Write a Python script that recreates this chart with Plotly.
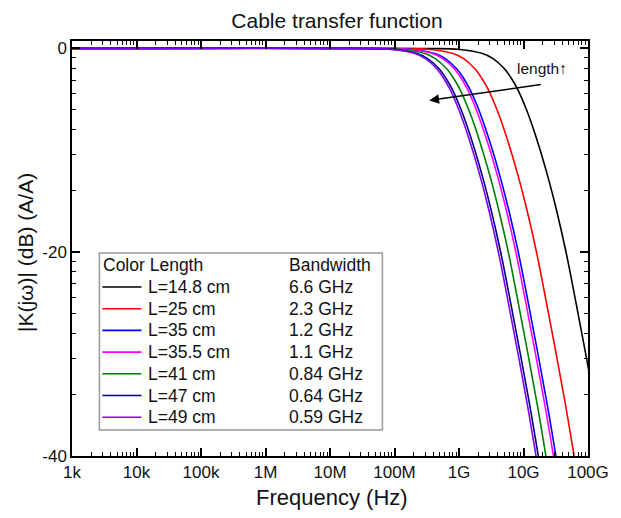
import numpy as np
import plotly.graph_objects as go

# ---------------- data ----------------
# attenuation levels (dB) shared by all curves; each curve lists the frequency (GHz)
# at which it reaches that level
db_levels = [0, -0.01, -0.1, -0.5, -1, -2, -3, -4, -6, -8, -10, -13, -16, -20, -25, -30, -35, -40]

freq_L148 = [1e-6, 0.33, 1.01, 2.32, 3.37, 5.06, 6.58, 8.09, 11.09, 14.42, 18.18, 24.88, 32.87, 45.69, 65.33, 92.27, 128.8, 174.9]
freq_L25 = [1e-6, 0.115, 0.353, 0.808, 1.18, 1.76, 2.29, 2.82, 3.87, 5.03, 6.34, 8.67, 11.46, 15.92, 22.77, 32.15, 44.88, 60.95]
freq_L35 = [1e-6, 0.06, 0.184, 0.422, 0.613, 0.920, 1.20, 1.47, 2.02, 2.62, 3.31, 4.52, 5.98, 8.31, 11.88, 16.78, 23.42, 31.80]
freq_L355 = [1e-6, 0.055, 0.169, 0.387, 0.562, 0.843, 1.10, 1.35, 1.85, 2.40, 3.03, 4.15, 5.48, 7.62, 10.89, 15.38, 21.47, 29.15]
freq_L41 = [1e-6, 0.042, 0.129, 0.295, 0.429, 0.644, 0.838, 1.03, 1.41, 1.84, 2.31, 3.17, 4.18, 5.82, 8.31, 11.74, 16.39, 22.26]
freq_L47 = [1e-6, 0.032, 0.0983, 0.225, 0.327, 0.491, 0.638, 0.784, 1.075, 1.399, 1.763, 2.413, 3.187, 4.431, 6.335, 8.947, 12.49, 16.96]
freq_L49 = [1e-6, 0.0295, 0.0906, 0.207, 0.302, 0.452, 0.588, 0.723, 0.991, 1.289, 1.625, 2.224, 2.938, 4.084, 5.840, 8.248, 11.51, 15.64]

length_labels = ["L=14.8 cm", "L=25 cm", "L=35 cm", "L=35.5 cm", "L=41 cm", "L=47 cm", "L=49 cm"]
bandwidth_labels = ["6.6 GHz", "2.3 GHz", "1.2 GHz", "1.1 GHz", "0.84 GHz", "0.64 GHz", "0.59 GHz"]
series_freqs = [freq_L148, freq_L25, freq_L35, freq_L355, freq_L41, freq_L47, freq_L49]

x_tick_vals = [1e3, 1e4, 1e5, 1e6, 1e7, 1e8, 1e9, 1e10, 1e11]
x_tick_text = ["1k", "10k", "100k", "1M", "10M", "100M", "1G", "10G", "100G"]
y_tick_vals = [-40, -20, 0]
y_tick_text = ["-40", "-20", "0"]

# ---------------- style ----------------
colors = ["#000000", "#FF0000", "#0000FF", "#FF00FF", "#008000", "#000080", "#8000FF"]
FONT = "Liberation Sans, Arial, sans-serif"
OFF = 8                      # page body margin of the html page
W, H = 621 - OFF, 518 - OFF  # figure size so that it exactly fills the window
# plot area in window pixels: x 72..599, y 41..456
L_M, T_M = 72 - OFF, 41 - OFF
R_M = W - (599 - OFF)
B_M = H - (456 - OFF)
PW, PH = 599 - 72, 456 - 41


def px(xw):
    """window x pixel -> paper x"""
    return (xw - 72) / PW


def py(yw):
    """window y pixel -> paper y"""
    return (456 - yw) / PH


fig = go.Figure()
for name, fr, col in zip(length_labels, series_freqs, colors):
    fig.add_trace(go.Scatter(
        x=np.array(fr) * 1e9, y=db_levels, mode="lines", name=name,
        line=dict(color=col, width=1.6, shape="spline", smoothing=1.0),
        showlegend=False,
    ))

# minor tick positions (log-decade minor ticks)
x_minor = [k * 10 ** n for n in range(3, 11) for k in range(2, 10)]
y_minor = [20 * np.log10(k / 10) + off for off in (0, -20) for k in range(2, 10)]

axis_common = dict(
    showline=True, linecolor="black", linewidth=1.5, mirror="allticks",
    ticks="inside", ticklen=8, tickwidth=1.5, tickcolor="black",
    showgrid=False, zeroline=False,
    tickfont=dict(family=FONT, size=17, color="#111"),
)

fig.update_xaxes(
    type="log", range=[3, 11], tickmode="array", tickvals=x_tick_vals, ticktext=x_tick_text,
    minor=dict(tickmode="array", tickvals=x_minor, ticks="inside", ticklen=4,
               tickwidth=1.2, tickcolor="black", showgrid=False),
    **axis_common,
)
fig.update_yaxes(
    range=[-40, 0.73], tickmode="array", tickvals=y_tick_vals, ticktext=y_tick_text,
    minor=dict(tickmode="array", tickvals=y_minor, ticks="inside", ticklen=4,
               tickwidth=1.2, tickcolor="black", showgrid=False),
    **axis_common,
)

shapes = []
annotations = []
LEG_FONT = dict(family=FONT, size=17.5, color="#111")

# legend box
shapes.append(dict(type="rect", xref="paper", yref="paper",
                   x0=px(100), x1=px(389), y0=py(430), y1=py(253),
                   line=dict(color="#999999", width=1.5), fillcolor="white", layer="above"))
annotations.append(dict(xref="paper", yref="paper", x=px(102), y=py(265), text="Color Length",
                        showarrow=False, xanchor="left", yanchor="middle", font=LEG_FONT))
annotations.append(dict(xref="paper", yref="paper", x=px(292), y=py(265), text="Bandwidth",
                        showarrow=False, xanchor="left", yanchor="middle", font=LEG_FONT))
row_y = [287, 308.7, 330.4, 352.1, 373.8, 395.5, 417.2]
for i, (lab, bw, col) in enumerate(zip(length_labels, bandwidth_labels, colors)):
    yy = py(row_y[i])
    shapes.append(dict(type="line", xref="paper", yref="paper", x0=px(103), x1=px(143),
                       y0=yy, y1=yy, line=dict(color=col, width=1.6), layer="above"))
    annotations.append(dict(xref="paper", yref="paper", x=px(148), y=yy, text=lab,
                            showarrow=False, xanchor="left", yanchor="middle", font=LEG_FONT))
    annotations.append(dict(xref="paper", yref="paper", x=px(292), y=yy, text=bw,
                            showarrow=False, xanchor="left", yanchor="middle", font=LEG_FONT))

# arrow + label
annotations.append(dict(xref="x", yref="y", x=np.log10(3.46e8), y=-5.1,
                        ax=113, ay=-16, axref="pixel", ayref="pixel",
                        showarrow=True, arrowhead=2, arrowsize=1.3, arrowwidth=1.5,
                        arrowcolor="black", text=""))
annotations.append(dict(xref="paper", yref="paper", x=px(552), y=py(68), text="length\u2191",
                        showarrow=False, xanchor="center", yanchor="middle",
                        font=dict(family=FONT, size=15.5, color="#111")))

# axis titles
annotations.append(dict(xref="paper", yref="paper", x=px(338), y=py(497), text="Frequency (Hz)",
                        showarrow=False, xanchor="center", yanchor="middle",
                        font=dict(family=FONT, size=22, color="#111")))
annotations.append(dict(xref="paper", yref="paper", x=px(24), y=py(253), text="|K(j\u03c9)| (dB) (A/A)",
                        showarrow=False, xanchor="center", yanchor="middle", textangle=-90,
                        font=dict(family=FONT, size=21, color="#111")))

fig.update_layout(
    width=W, height=H,
    margin=dict(l=L_M, r=R_M, t=T_M, b=B_M, pad=0),
    paper_bgcolor="white", plot_bgcolor="white",
    title=dict(text="Cable transfer function", x=(337 - OFF) / W, xanchor="center",
               y=1 - (21 - OFF) / H, yanchor="middle", yref="container",
               font=dict(family=FONT, size=21, color="#111")),
    shapes=shapes, annotations=annotations,
    showlegend=False,
)

fig.write_html("out.html")
